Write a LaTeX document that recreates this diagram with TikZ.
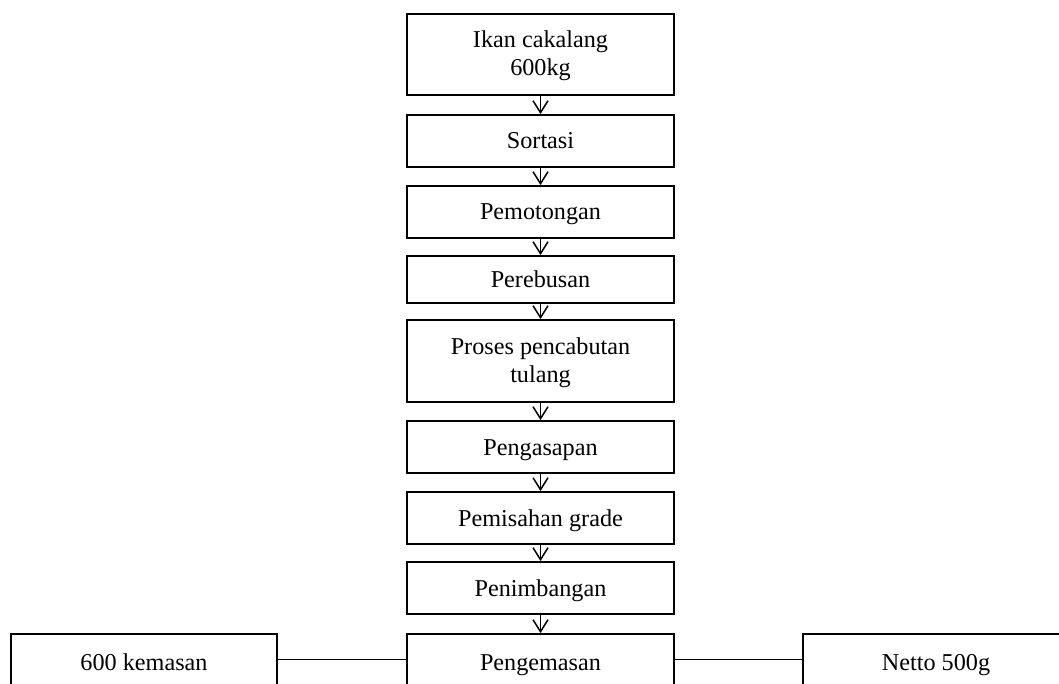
\documentclass[tikz,border=0pt]{standalone}
\usepackage{fontspec}
\setmainfont{Liberation Serif}
\usepackage{xcolor}
\usetikzlibrary{arrows.meta,positioning}
\colorlet{fcline}{black}
\newcommand{\fcstrut}{\rule{0pt}{19.5pt}}
\tikzset{
  fcstage/.style={
    draw=fcline,
    line width=1.8pt,
    align=center,
    inner sep=2pt,
    minimum width=267pt,
    font=\fontsize{24.2}{28}\selectfont
  },
  fcstep/.style={fcstage,minimum height=52pt,text height=19pt,text depth=3pt},
  fcside/.style={fcstep,minimum width=266pt,minimum height=56pt},
  fcflow/.style={-{Straight Barb[length=12pt,width=15pt,line width=1.5pt]},line width=1.5pt,fcline},
  fclink/.style={line width=1pt,fcline}
}
\begin{document}
\begin{tikzpicture}[x=1pt,y=-1pt]
  \useasboundingbox (0,0) rectangle (1059,684);

  \node[fcstage,minimum height=81pt] (ikan) at (540.5,54.5)
    {\fcstrut Ikan cakalang\\600kg};
  \node[fcstep] (sortasi) at (540.5,141) {Sortasi};
  \node[fcstep] (potong) at (540.5,212) {Pemotongan};
  \node[fcstep,minimum height=47pt] (rebus) at (540.5,279.5) {Perebusan};
  \node[fcstage,minimum height=82pt] (tulang) at (540.5,361)
    {\fcstrut Proses pencabutan\\tulang};
  \node[fcstep] (asap) at (540.5,447) {Pengasapan};
  \node[fcstep] (grade) at (540.5,518) {Pemisahan grade};
  \node[fcstep] (timbang) at (540.5,588) {Penimbangan};
  \node[fcstep,minimum height=56pt] (kemas) at (540.5,662) {Pengemasan};

  \node[fcside] (jumlah) at (144,662) {600 kemasan};
  \node[fcside] (netto) at (936,662) {Netto 500g};

  \draw[fcflow] (ikan) -- (sortasi);
  \draw[fcflow] (sortasi) -- (potong);
  \draw[fcflow] (potong) -- (rebus);
  \draw[fcflow] (rebus) -- (tulang);
  \draw[fcflow] (tulang) -- (asap);
  \draw[fcflow] (asap) -- (grade);
  \draw[fcflow] (grade) -- (timbang);
  \draw[fcflow] (timbang) -- (kemas);

  \draw[fclink] ([yshift=3pt]jumlah.east) -- ([yshift=3pt]kemas.west);
  \draw[fclink] ([yshift=3pt]kemas.east) -- ([yshift=3pt]netto.west);
\end{tikzpicture}
\end{document}
